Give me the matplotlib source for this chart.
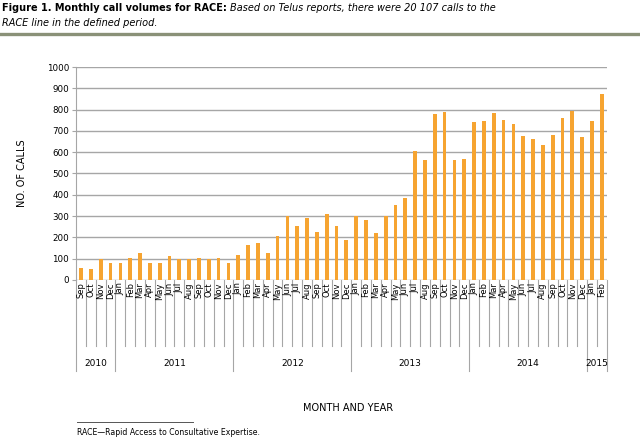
import matplotlib
matplotlib.use('Agg')
import matplotlib.pyplot as plt
import matplotlib.transforms as mtransforms
from matplotlib.lines import Line2D
import numpy as np

plt.rcParams['font.family'] = ['Liberation Sans Narrow', 'DejaVu Sans']

# Monthly calls, Sep 2010 - Feb 2015
months = ['Sep', 'Oct', 'Nov', 'Dec'] + \
         ['Jan', 'Feb', 'Mar', 'Apr', 'May', 'Jun', 'Jul', 'Aug', 'Sep', 'Oct', 'Nov', 'Dec'] * 4 + \
         ['Jan', 'Feb']
years = ['2010', '2011', '2012', '2013', '2014', '2015']
months_per_year = [4, 12, 12, 12, 12, 2]
calls = [56, 52, 97, 80,
         80, 103, 128, 80, 80, 113, 96, 96, 102, 96, 103, 80,
         116, 163, 171, 124, 208, 299, 255, 292, 224, 310, 254, 188,
         298, 279, 218, 298, 354, 384, 607, 561, 777, 788, 561, 567,
         743, 748, 784, 752, 730, 676, 663, 635, 680, 760, 793, 669,
         745, 871]

bar_color = '#f6a431'
grid_color = '#a6a6a6'

fig = plt.figure(figsize=(6.4, 4.38), dpi=100)
ax = fig.add_axes([0.119, 0.361, 0.829, 0.486])

x = np.arange(len(calls))
ax.bar(x, calls, width=0.38, color=bar_color, zorder=3)

ax.set_xlim(-0.5, len(calls) - 0.5)
ax.set_ylim(0, 1000)
ax.set_yticks(range(0, 1001, 100))
ax.tick_params(axis='y', labelsize=6.3, length=3, color=grid_color, pad=2)
ax.yaxis.grid(True, color=grid_color, linewidth=1)
ax.set_axisbelow(True)
ax.set_xticks([])
for s in ['top', 'right', 'bottom']:
    ax.spines[s].set_visible(False)
ax.spines['left'].set_color(grid_color)
ax.set_ylabel('NO. OF CALLS', fontsize=7, labelpad=14)

# two-level category axis
trans = mtransforms.blended_transform_factory(ax.transData, ax.transAxes)
for i, m in enumerate(months):
    ax.text(i, -0.012, m, transform=trans, rotation=90, ha='center', va='top',
            fontsize=6, clip_on=False)
year_edges = np.cumsum([0] + months_per_year) - 0.5
for i in range(len(calls) + 1):
    xe = i - 0.5
    bottom = -0.43 if xe in year_edges else -0.31
    ax.add_line(Line2D([xe, xe], [0, bottom], transform=trans, color=grid_color,
                       linewidth=0.8, clip_on=False))
for k, yr in enumerate(years):
    mid = (year_edges[k] + year_edges[k + 1]) / 2
    ax.text(mid, -0.395, yr, transform=trans, ha='center', va='center',
            fontsize=6.5, clip_on=False)

fig.text(0.544, 0.068, 'MONTH AND YEAR', ha='center', va='center', fontsize=7)

# title
t1 = fig.text(0.003, 0.982, 'Figure 1. Monthly call volumes for RACE:', fontweight='bold',
              fontsize=7, va='center', ha='left')
fig.canvas.draw()
bb = t1.get_window_extent().transformed(fig.transFigure.inverted())
fig.text(bb.x1 + 0.005, 0.982, 'Based on Telus reports, there were 20 107 calls to the',
         style='italic', fontsize=7, va='center', ha='left')
fig.text(0.003, 0.947, 'RACE line in the defined period.', style='italic',
         fontsize=7, va='center', ha='left')
fig.add_artist(Line2D([0, 1], [0.923, 0.923], transform=fig.transFigure,
                      color='#8a9178', linewidth=2.4))

# footnote
fig.add_artist(Line2D([0.12, 0.302], [0.036, 0.036], transform=fig.transFigure,
                      color='#555555', linewidth=0.7))
fig.text(0.12, 0.013, 'RACE\u2014Rapid Access to Consultative Expertise.', fontsize=5.6,
         va='center', ha='left')

fig.savefig('out.png', dpi=100)
